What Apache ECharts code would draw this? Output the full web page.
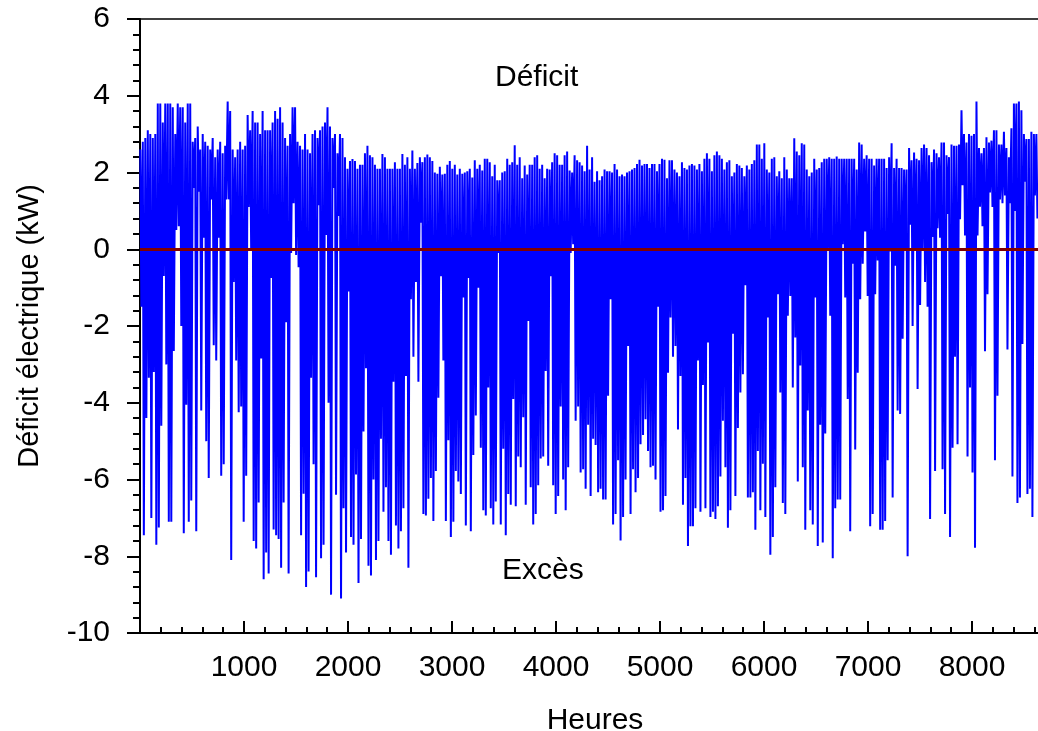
<!DOCTYPE html>
<html>
<head>
<meta charset="utf-8">
<script src="https://cdn.jsdelivr.net/npm/echarts@6/dist/echarts.min.js"></script>
<style>
  html, body { margin: 0; padding: 0; background: #fff; }
  #chart { width: 1038px; height: 731px; }
</style>
</head>
<body>
<div id="chart"></div>
<script>
// one value per day (kW)
// nightly maximum of the deficit
const nightPeak = [
  // days 0-47
  2.6, 2.8, 2.9, 3.1, 3.0, 2.9, 3.0, 3.8, 3.8, 3.3, 3.8, 3.8, 3.8, 3.7, 3.0, 3.8, 3.7, 3.7, 3.3, 3.8,
  3.8, 2.8, 2.9, 3.2, 2.6, 3.0, 2.8, 2.7, 2.6, 2.9, 2.4, 2.6, 2.8, 2.5, 2.7, 3.85, 3.6, 2.6, 2.4, 2.6,
  2.8, 2.6, 2.7, 3.5, 3.1, 3.6, 3.3, 3.3,
  // days 48-93
  3.0, 3.6, 3.1, 3.1, 3.1, 3.3, 3.6, 3.4, 3.7, 3.3, 2.9, 2.7, 3.0, 3.7, 3.7, 2.8, 2.7, 2.6, 3.0, 2.6,
  2.5, 3.0, 3.1, 2.9, 3.1, 3.2, 3.3, 3.7, 3.2, 2.9, 3.0, 2.5, 3.0, 2.9, 2.4, 2.1, 2.3, 2.35, 2.3, 2.1,
  2.2, 2.2, 2.5, 2.7, 2.45, 2.4,
  // days 94-137
  2.2, 2.1, 2.1, 2.48, 2.4, 2.1, 2.1, 2.1, 2.27, 2.1, 2.1, 2.48, 2.2, 2.4, 2.1, 2.57, 2.1, 2.25, 2.4, 2.27,
  2.4, 2.47, 2.4, 2.3, 2.0, 1.97, 2.15, 1.95, 1.97, 2.2, 2.3, 2.1, 2.2, 1.95, 2.1, 1.97, 2.0, 2.03, 2.1, 1.87,
  2.32, 2.1, 2.2, 2.05,
  // days 138-181
  2.36, 2.36, 2.27, 1.9, 2.2, 1.8, 1.8, 2.0, 2.03, 2.36, 2.2, 2.27, 2.71, 2.2, 2.4, 1.85, 2.18, 1.95, 2.2, 2.2,
  2.4, 2.45, 2.1, 2.2, 1.85, 2.1, 2.08, 2.27, 2.5, 2.45, 2.2, 2.2, 2.45, 2.55, 2.05, 2.0, 2.45, 2.32, 2.27, 2.18,
  2.03, 2.7, 2.08, 2.4,
  // days 182-225
  1.76, 2.03, 1.8, 1.9, 2.08, 2.03, 2.03, 2.0, 2.22, 2.08, 1.9, 1.95, 1.9, 2.0, 2.03, 2.08, 2.12, 2.22, 2.33, 2.18,
  2.22, 2.22, 2.12, 2.22, 2.22, 2.03, 2.22, 2.36, 2.33, 1.85, 2.32, 2.32, 2.08, 2.0, 1.9, 2.27, 2.12, 2.08, 2.18, 2.22,
  2.18, 2.08, 2.22, 2.03,
  // days 226-269
  2.36, 2.5, 2.36, 2.03, 2.45, 2.55, 2.45, 2.36, 2.08, 2.27, 2.32, 1.9, 2.0, 2.22, 2.18, 2.12, 1.9, 2.18, 2.08, 2.22,
  2.32, 2.73, 2.73, 2.36, 2.76, 2.08, 2.0, 2.36, 2.4, 1.9, 2.03, 1.85, 2.4, 2.08, 1.85, 1.85, 2.89, 2.55, 2.45, 2.76,
  2.73, 2.08, 1.9, 2.0,
  // days 270-313
  2.36, 2.08, 2.12, 2.27, 2.36, 2.36, 2.4, 2.36, 2.36, 2.42, 2.36, 2.36, 2.36, 2.36, 2.36, 2.36, 2.36, 2.08, 2.78, 2.73,
  2.36, 2.45, 2.36, 2.36, 2.18, 2.36, 2.36, 2.36, 2.36, 2.12, 2.4, 2.76, 2.12, 2.36, 2.12, 2.12, 2.08, 2.08, 2.64, 2.32,
  2.52, 2.36, 2.32, 2.64,
  // days 314-359
  2.73, 2.64, 2.45, 2.27, 2.6, 2.5, 2.4, 2.78, 2.78, 2.45, 2.4, 2.73, 2.7, 2.7, 2.73, 3.62, 3.0, 2.78, 3.0, 2.96,
  3.0, 3.85, 2.64, 2.5, 2.64, 2.92, 2.78, 2.83, 3.1, 3.1, 2.73, 2.73, 3.06, 2.64, 2.4, 3.15, 3.8, 3.8, 3.85, 3.62,
  3.0, 2.87, 2.87, 3.06, 3.0, 3.0
];

// daytime minimum (negative = excess of production)
const dayMin = [
  // days 0-47
  -1.5, -7.45, -4.4, -3.35, -7.0, -3.2, -7.7, -7.25, -4.6, -0.7, -3.0, -7.1, -7.1, -2.65, 0.5, 0.6, -2.0, -7.4, -4.05, -7.1,
  -6.55, 1.6, -7.35, 1.5, -4.2, 0.3, -5.0, -5.96, 1.3, -2.5, -2.9, 0.3, -5.9, -5.6, 1.3, 1.3, -8.1, -0.85, -2.9, -4.25,
  -4.1, -7.1, -5.9, 1.1, 0.0, -7.6, -7.8, -6.6,
  // days 48-93
  -2.85, -8.6, -7.9, -8.45, -0.75, -7.3, -7.45, -7.55, -8.3, -6.6, -1.9, -8.45, -0.1, 1.2, -0.15, -0.47, -7.45, -6.37, -8.8, -8.4,
  -3.35, -5.6, -8.55, 1.15, -8.05, -7.7, 0.37, -4.0, -9.0, 1.6, -6.4, 0.87, -9.1, -6.75, -7.9, -1.1, -7.5, -7.7, -5.87, -8.7,
  -7.55, -4.75, -3.1, -8.25, -8.5, -6.0,
  // days 94-137
  -8.1, -7.6, -4.94, -6.84, -6.2, -7.6, -7.96, -3.45, -7.2, -7.8, -7.35, -6.75, -3.3, -8.3, -1.3, -2.8, -0.85, -3.45, 0.69, -6.9,
  -6.94, -6.5, -5.96, -7.08, -5.78, -3.87, -0.7, -2.9, -7.08, -4.98, -7.5, -7.1, -5.78, -6.05, -6.38, -1.26, -7.2, -0.75, -7.35, -5.36,
  -4.33, -1.0, -5.17, -6.8,
  // days 138-181
  -6.94, -3.6, -6.75, -7.17, -6.57, -0.1, -7.17, -5.2, -7.45, -6.38, -6.66, -3.9, -6.7, -5.4, -5.68, -4.38, -6.66, -1.87, -6.2, -7.17,
  -6.9, -6.15, -5.45, -5.4, -3.17, -5.64, -0.7, -6.15, -6.9, -6.43, -4.1, -6.0, -6.8, -5.68, -0.1, 0.13, -4.47, -4.1, -5.82, -5.73,
  -6.24, -4.57, -6.43, -4.94,
  // days 182-225
  -5.1, -6.33, -6.24, -6.52, -6.52, -3.82, -1.3, -7.17, -6.9, -5.5, -7.59, -6.98, -6.0, -2.52, -6.9, -5.73, -6.33, -5.96, -5.08, -4.84,
  -4.43, -5.26, -5.68, -5.64, -6.0, -1.5, -6.84, -6.8, -6.43, -3.22, -1.78, -2.8, -2.52, -4.7, -3.3, -6.66, -5.96, -7.73, -7.22, -7.22,
  -6.75, -2.9, -6.84, -3.54,
  // days 226-269
  -6.75, -2.43, -6.98, -6.84, -7.03, -6.7, -5.92, -4.47, -5.68, -7.26, -6.8, -2.2, -6.43, -4.66, -3.73, -3.26, -0.94, -6.47, -6.47, -6.33,
  -7.31, -5.26, -6.8, -5.59, -6.98, -1.78, -7.96, -7.5, -6.2, -1.17, -3.73, -6.61, -6.9, -1.73, -1.22, -3.6, -2.3, -6.05, -3.03, -5.68,
  -7.31, -4.2, -6.8, -7.17,
  // days 270-313
  -1.26, -7.73, -4.57, -7.64, -4.8, 0.0, -1.73, -8.05, -6.75, -6.52, -6.52, 0.13, -1.26, -3.9, -7.35, -0.38, -5.22, -3.22, -1.3, -0.38,
  0.46, -1.22, -7.22, -6.9, -1.17, -0.29, -7.31, -7.31, -7.08, -5.5, -0.06, -6.47, -0.43, -4.2, -4.29, -2.33, 0.0, -8.0, 0.64, -2.0,
  0.0, -3.64, -1.45, 0.0,
  // days 314-359
  -0.85, -1.5, -7.03, 0.32, -5.78, 0.55, 0.3, -5.73, -6.9, 0.92, -7.5, -5.17, -2.8, -5.08, 0.78, 1.67, 0.36, -5.4, -3.6, -5.82,
  -7.78, 0.36, 1.11, 0.6, -2.66, -1.17, 1.48, 1.1, -5.5, -3.82, 1.3, 1.2, 1.4, -2.61, 1.2, -5.92, 1.0, -6.61, -6.47, -2.47,
  1.76, -6.38, -6.24, -6.98, 1.4, 0.8
];

const yTicks = [-10, -8, -6, -4, -2, 0, 2, 4, 6];

// night peak early in the day, minimum around midday
const points = [];
for (let d = 0; d < nightPeak.length; d++) {
  points.push([d * 24 + 3, nightPeak[d]]);
  points.push([d * 24 + 13, dayMin[d]]);
}

const font = '"Liberation Sans", Arial, sans-serif';
const chart = echarts.init(document.getElementById('chart'));
chart.setOption({
  animation: false,
  textStyle: { fontFamily: font },
  // plot runs past the right edge of the picture (axis goes to 9000 h)
  grid: {
    left: 140, top: 19, width: 936, height: 614,
    outerBoundsMode: 'none',
    show: true, borderColor: '#000', borderWidth: 1.5
  },
  xAxis: {
    type: 'value',
    min: 0, max: 9000, interval: 1000,
    name: 'Heures', nameLocation: 'middle', nameGap: 73,
    nameTextStyle: { fontSize: 30, color: '#000', fontFamily: font, padding: [0, 26, 0, 0] },
    axisLine: { onZero: false, lineStyle: { color: '#000', width: 2 } },
    axisTick: { inside: true, length: 12, lineStyle: { color: '#000', width: 2 } },
    minorTick: { show: true, splitNumber: 5, length: 6, lineStyle: { color: '#000', width: 2 } },
    axisLabel: {
      fontSize: 30, color: '#000', margin: 20, showMinLabel: false,
      formatter: v => (v > 0 && v < 9000 ? String(v) : '')
    },
    splitLine: { show: false }
  },
  yAxis: {
    type: 'value',
    min: yTicks[0], max: yTicks[yTicks.length - 1], interval: 2,
    name: 'Déficit électrique (kW)', nameLocation: 'middle', nameGap: 96, nameRotate: 90,
    nameTextStyle: { fontSize: 29, color: '#000', fontFamily: font },
    axisLine: { show: true, onZero: false, lineStyle: { color: '#000', width: 2 } },
    axisTick: { show: true, length: 13, lineStyle: { color: '#000', width: 2 } },
    minorTick: { show: true, splitNumber: 5, length: 7, lineStyle: { color: '#000', width: 2 } },
    axisLabel: { fontSize: 30, color: '#000', margin: 30 },
    splitLine: { show: false }
  },
  graphic: [
    { type: 'text', left: 495, top: 63, style: { text: 'Déficit', fill: '#000', font: '30px ' + font } },
    { type: 'text', left: 502, top: 556, style: { text: 'Excès', fill: '#000', font: '30px ' + font } }
  ],
  series: [{
    type: 'line',
    data: points,
    showSymbol: false,
    lineStyle: { color: '#0000ff', width: 2 },
    itemStyle: { color: '#0000ff' },
    markLine: {
      silent: true,
      symbol: 'none',
      label: { show: false },
      lineStyle: { color: '#800000', width: 3, type: 'solid' },
      data: [{ yAxis: 0 }]
    }
  }]
});
</script>
</body>
</html>
